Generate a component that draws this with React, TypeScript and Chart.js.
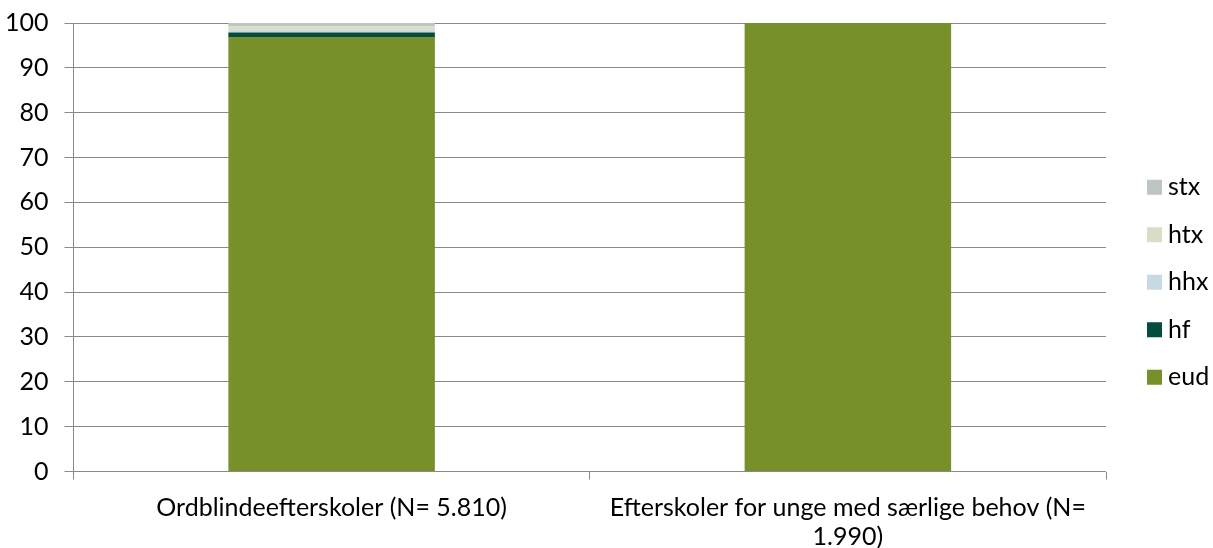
import React, { useEffect, useRef } from "react";
import { Chart, registerables } from "chart.js";

Chart.register(...registerables);

const categories: string[][] = [
  ["Ordblindeefterskoler (N= 5.810)"],
  ["Efterskoler for unge med særlige behov (N=", "1.990)"],
];
const eud = [96.9, 100];
const hf = [1.0, 0];
const hhx = [0.5, 0];
const htx = [0.9, 0];
const stx = [0.7, 0];
const yTicks = [0, 10, 20, 30, 40, 50, 60, 70, 80, 90, 100];

const seriesNames = ["eud", "hf", "hhx", "htx", "stx"];
const seriesValues = [eud, hf, hhx, htx, stx];
const seriesColors = ["#77902A", "#034C3F", "#C7DAE3", "#DADDC8", "#BEC6C3"];

const FONT = "Lato, 'Liberation Sans', sans-serif";
const FONT_SIZE = 25;

const sideLegend = {
  id: "sideLegend",
  afterDraw(chart: any) {
    const { ctx, chartArea } = chart;
    const ds = chart.data.datasets;
    const gap = 47.5;
    const n = ds.length;
    const centerY = (chartArea.top + chartArea.bottom) / 2 + 35;
    const x0 = chartArea.right + 41;
    ctx.save();
    ctx.font = `${FONT_SIZE}px ${FONT}`;
    ctx.textBaseline = "middle";
    ctx.textAlign = "left";
    for (let i = 0; i < n; i++) {
      const d = ds[n - 1 - i];
      const y = centerY + (i - (n - 1) / 2) * gap;
      ctx.fillStyle = d.backgroundColor;
      ctx.fillRect(x0, y - 7.5, 15, 15);
      ctx.fillStyle = "#000";
      ctx.fillText(d.label, x0 + 21, y);
    }
    ctx.restore();
  },
};

export default function App() {
  const ref = useRef<HTMLCanvasElement>(null);
  useEffect(() => {
    if (!ref.current) return;
    const chart = new Chart(ref.current, {
      type: "bar",
      data: {
        labels: categories as any,
        datasets: seriesNames.map((name, i) => ({
          label: name,
          data: seriesValues[i],
          backgroundColor: seriesColors[i],
          borderWidth: 0,
          categoryPercentage: 1,
          barPercentage: 0.4,
        })),
      },
      options: {
        animation: false,
        responsive: true,
        maintainAspectRatio: false,
        layout: { padding: { left: -11, right: 107, top: 23, bottom: -17 } },
        plugins: {
          legend: { display: false },
          tooltip: { enabled: false },
        },
        scales: {
          x: {
            stacked: true,
            offset: true,
            grid: {
              offset: true,
              drawOnChartArea: false,
              drawTicks: true,
              tickLength: 8,
              color: "#898989",
            },
            border: { display: false },
            ticks: {
              color: "#000",
              padding: 14,
              maxRotation: 0,
              autoSkip: false,
              font: { family: FONT, size: FONT_SIZE, lineHeight: 1.15 },
            },
          },
          y: {
            stacked: true,
            min: 0,
            max: 100,
            afterBuildTicks: (scale: any) => {
              scale.ticks = yTicks.map((v) => ({ value: v }));
            },
            afterFit: (scale: any) => {
              scale.paddingTop = 0;
              scale.paddingBottom = 0;
            },
            grid: {
              color: "#898989",
              tickLength: 9,
              drawTicks: true,
            },
            border: { display: true, color: "#898989" },
            ticks: {
              color: "#000",
              padding: 16,
              font: { family: FONT, size: FONT_SIZE },
            },
          },
        },
      },
      plugins: [sideLegend],
    });
    return () => chart.destroy();
  }, []);
  return (
    <div style={{ position: "fixed", left: 0, top: 0, width: 1213, height: 548, background: "#fff" }}>
      <canvas ref={ref} />
    </div>
  );
}
